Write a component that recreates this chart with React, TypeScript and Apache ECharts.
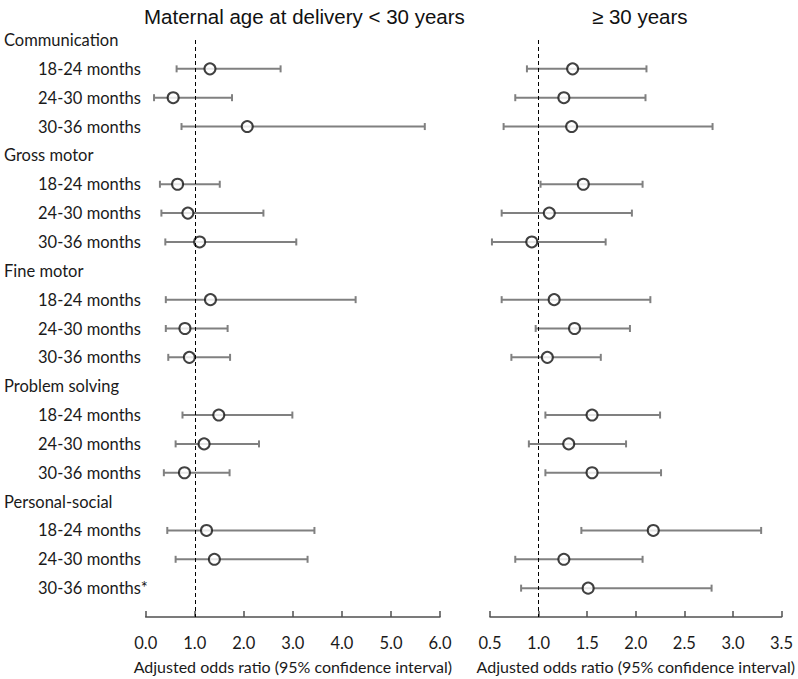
import React, { useEffect, useRef } from 'react';
import * as echarts from 'echarts';

const rowLabels = [
  'Communication', '18-24 months', '24-30 months', '30-36 months',
  'Gross motor', '18-24 months', '24-30 months', '30-36 months',
  'Fine motor', '18-24 months', '24-30 months', '30-36 months',
  'Problem solving', '18-24 months', '24-30 months', '30-36 months',
  'Personal-social', '18-24 months', '24-30 months', '30-36 months*',
];
const headerRows = [0, 4, 8, 12, 16];
// estimate rows (in order of rowLabels, skipping headers)
const estimateRows = [1, 2, 3, 5, 6, 7, 9, 10, 11, 13, 14, 15, 17, 18, 19];

const leftOR = [1.31, 0.56, 2.07, 0.65, 0.86, 1.10, 1.32, 0.80, 0.89, 1.49, 1.19, 0.79, 1.24, 1.40, null];
const leftLow = [0.63, 0.17, 0.73, 0.29, 0.32, 0.40, 0.41, 0.41, 0.46, 0.75, 0.61, 0.37, 0.44, 0.61, null];
const leftHigh = [2.75, 1.76, 5.69, 1.51, 2.40, 3.07, 4.28, 1.67, 1.72, 2.99, 2.31, 1.71, 3.44, 3.30, null];

const rightOR = [1.35, 1.26, 1.34, 1.46, 1.11, 0.93, 1.16, 1.37, 1.09, 1.55, 1.31, 1.55, 2.18, 1.26, 1.51];
const rightLow = [0.88, 0.76, 0.64, 1.02, 0.62, 0.52, 0.62, 0.97, 0.72, 1.07, 0.90, 1.07, 1.44, 0.76, 0.82];
const rightHigh = [2.11, 2.10, 2.79, 2.07, 1.96, 1.69, 2.15, 1.94, 1.64, 2.25, 1.90, 2.26, 3.29, 2.07, 2.78];

const titles = ['Maternal age at delivery < 30 years', '\u2265 30 years'];
const axisName = 'Adjusted odds ratio (95% confidence interval)';

const FONT = 'Lato, "Noto Sans", sans-serif';

function buildBars(low: (number | null)[], high: (number | null)[]) {
  const out: any[] = [];
  low.forEach((l, k) => {
    const h = high[k];
    if (l == null || h == null) return;
    out.push([l, h, estimateRows[k]]);
  });
  return out;
}
function buildPts(or: (number | null)[]) {
  const out: any[] = [];
  or.forEach((v, k) => {
    if (v == null) return;
    out.push([v, estimateRows[k]]);
  });
  return out;
}

const renderErr = (params: any, api: any) => {
  const row = api.value(2);
  const p1 = api.coord([api.value(0), row]);
  const p2 = api.coord([api.value(1), row]);
  const st = { stroke: '#808080', lineWidth: 2 };
  const cap = 3.5;
  return {
    type: 'group',
    children: [
      { type: 'line', shape: { x1: p1[0], y1: p1[1], x2: p2[0], y2: p2[1] }, style: st },
      { type: 'line', shape: { x1: p1[0], y1: p1[1] - cap, x2: p1[0], y2: p1[1] + cap }, style: st },
      { type: 'line', shape: { x1: p2[0], y1: p2[1] - cap, x2: p2[0], y2: p2[1] + cap }, style: st },
    ],
  };
};

export default function App() {
  const ref = useRef<HTMLDivElement>(null);
  useEffect(() => {
    if (!ref.current) return;
    const chart = echarts.init(ref.current, null, { renderer: 'svg' });
    const top = 40;
    const height = 581.5;
    const xAxisCommon = (grid: number, min: number, max: number, interval: number) => ({
      type: 'value',
      gridIndex: grid,
      min,
      max,
      interval,
      axisLine: { show: true, onZero: false, lineStyle: { color: '#505050', width: 1.5 } },
      axisTick: { show: true, inside: true, length: 6, lineStyle: { color: '#505050', width: 1.5 } },
      splitLine: { show: false },
      axisLabel: {
        margin: 17,
        color: '#1a1a1a',
        fontSize: 16.5,
        fontFamily: FONT,
        formatter: (v: number) => v.toFixed(1),
      },
      name: axisName,
      nameLocation: 'middle',
      nameGap: 41,
      nameTextStyle: { color: '#1a1a1a', fontSize: 16, fontFamily: FONT },
    });
    const dashed = {
      silent: true,
      symbol: ['none', 'none'],
      label: { show: false },
      lineStyle: { type: [4, 3], color: '#000', width: 1 },
      data: [{ xAxis: 1 }],
    };
    const ptStyle = { color: '#ffffff', borderColor: '#111111', borderWidth: 2 };
    const titleStyle = { fontFamily: '"Liberation Sans", Arial, sans-serif', fontSize: 20.5, fontWeight: 'normal', color: '#111111' };
    chart.setOption({
      animation: false,
      backgroundColor: '#ffffff',
      title: [
        { text: titles[0], left: 139, top: 1, textStyle: titleStyle },
        { text: titles[1], left: 587, top: 1, textStyle: titleStyle },
      ],
      grid: [
        { left: 142.7, top, width: 297.3, height },
        { left: 490, top, width: 296.5, height },
      ],
      xAxis: [xAxisCommon(0, 0, 6, 1), xAxisCommon(1, 0.5, 3.5, 0.5)],
      yAxis: [
        {
          type: 'value',
          gridIndex: 0,
          min: 0,
          max: 20,
          interval: 1,
          inverse: true,
          axisLine: { show: false },
          axisTick: { show: false },
          splitLine: { show: false },
          axisLabel: {
            align: 'left',
            margin: 142.7,
            formatter: (v: number) => {
              const i = Math.round(v);
              const t = rowLabels[i];
              if (!t) return '';
              return headerRows.includes(i) ? `{h|${t}}` : `{s|${t}}`;
            },
            rich: {
              h: { fontSize: 16.5, fontFamily: FONT, color: '#1a1a1a', padding: [0, 0, 0, 1] },
              s: { fontSize: 16.5, fontFamily: FONT, color: '#1a1a1a', padding: [0, 0, 0, 35] },
            },
          },
        },
        {
          type: 'value',
          gridIndex: 1,
          min: 0,
          max: 20,
          interval: 1,
          inverse: true,
          show: false,
          splitLine: { show: false },
        },
      ],
      series: [
        {
          type: 'custom',
          xAxisIndex: 0,
          yAxisIndex: 0,
          renderItem: renderErr,
          encode: { x: [0, 1], y: 2 },
          data: buildBars(leftLow, leftHigh),
          z: 2,
        },
        {
          type: 'scatter',
          xAxisIndex: 0,
          yAxisIndex: 0,
          symbol: 'circle',
          symbolSize: 11,
          itemStyle: ptStyle,
          data: buildPts(leftOR),
          markLine: dashed,
          z: 3,
        },
        {
          type: 'custom',
          xAxisIndex: 1,
          yAxisIndex: 1,
          renderItem: renderErr,
          encode: { x: [0, 1], y: 2 },
          data: buildBars(rightLow, rightHigh),
          z: 2,
        },
        {
          type: 'scatter',
          xAxisIndex: 1,
          yAxisIndex: 1,
          symbol: 'circle',
          symbolSize: 11,
          itemStyle: ptStyle,
          data: buildPts(rightOR),
          markLine: dashed,
          z: 3,
        },
      ],
    });
    return () => chart.dispose();
  }, []);
  return <div ref={ref} style={{ position: 'fixed', left: 0, top: 0, width: 798, height: 679 }} />;
}
